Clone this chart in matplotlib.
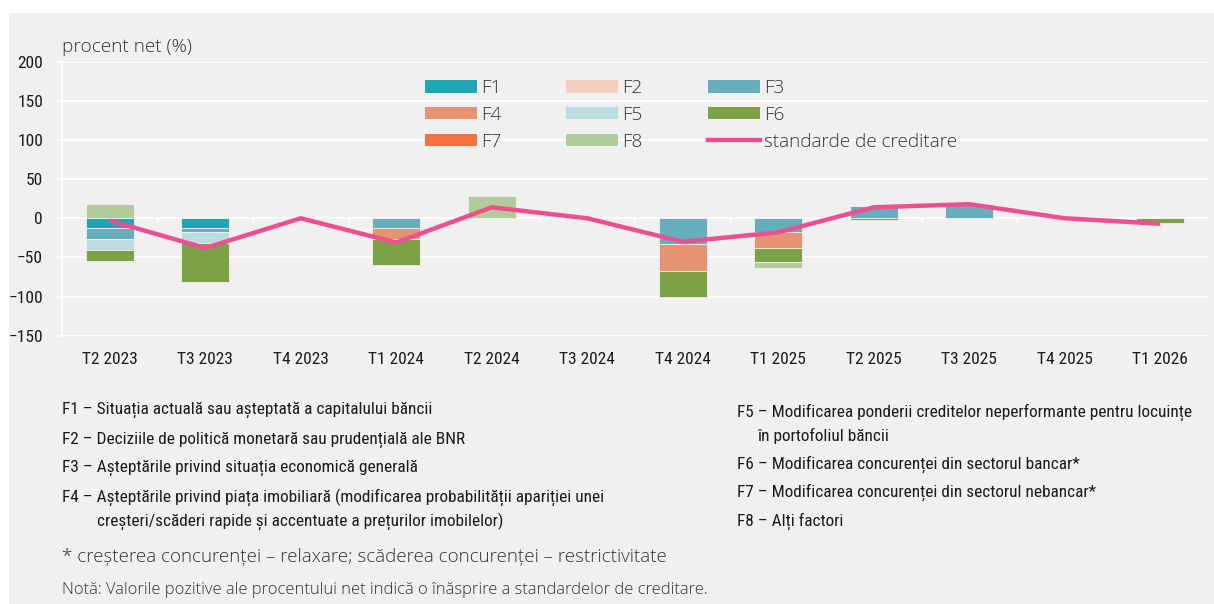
import numpy as np
import matplotlib
matplotlib.use("Agg")
import matplotlib.pyplot as plt
from matplotlib.patches import Rectangle, Patch
from matplotlib.lines import Line2D
from matplotlib.font_manager import FontProperties

# data (procent net, %)
trimestre = ["T2 2023", "T3 2023", "T4 2023", "T1 2024", "T2 2024", "T3 2024",
             "T4 2024", "T1 2025", "T2 2025", "T3 2025", "T4 2025", "T1 2026"]
F1 = [-13, -13, 0, 0, 0, 0, 0, 0, 0, 0, 0, 0]
F2 = [0, 0, 0, 0, 0, 0, 0, 0, 0, 0, 0, 0]
F3 = [-14, -5, 0, -13, 0, 0, -33, -18, 16, 18, 0, 0]
F4 = [0, 0, 0, -13, 0, 0, -34, -20, 0, 0, 0, 0]
F5 = [-14, -14, 0, 0, 0, 0, 0, 0, 0, 0, 0, 0]
F6 = [-13, -50, 0, -34, 0, 0, -33, -18, -2, 0, 0, -6]
F7 = [0, 0, 0, 0, 0, 0, 0, 0, 0, 0, 0, 0]
F8 = [18, 0, 0, 0, 28, 0, 0, -8, 0, 0, 0, 0]
standarde = [-3, -38, 0, -31, 14, 0, -30, -18, 14, 18, 0, -7]

factori = ["F1", "F2", "F3", "F4", "F5", "F6", "F7", "F8"]
culori = ["#1fa6b4", "#f4cfbd", "#67aebd", "#e69372", "#bddcdf", "#7ca147", "#f5703c", "#b1cc9a"]
serii = [F1, F2, F3, F4, F5, F6, F7, F8]

desc_stanga = ["F1 – Situația actuală sau așteptată a capitalului băncii",
               "F2 – Deciziile de politică monetară sau prudențială ale BNR",
               "F3 – Așteptările privind situația economică generală",
               "F4 – Așteptările privind piața imobiliară (modificarea probabilității apariției unei",
               "creșteri/scăderi rapide și accentuate a prețurilor imobilelor)"]
desc_dreapta = ["F5 – Modificarea ponderii creditelor neperformante pentru locuințe",
                "în portofoliul băncii",
                "F6 – Modificarea concurenței din sectorul bancar*",
                "F7 – Modificarea concurenței din sectorul nebancar*",
                "F8 – Alți factori"]
nota1 = "* creșterea concurenței – relaxare; scăderea concurenței – restrictivitate"
nota2 = "Notă: Valorile pozitive ale procentului net indică o înăsprire a standardelor de creditare."

W, H = 1214, 604
gri = "#f0f0f0"
text_col = "#1a1a1a"
gri_text = "#333333"
narrow = FontProperties(family=["Roboto Condensed", "DejaVu Sans"], size=12.5)
narrow_desc = FontProperties(family=["Roboto Condensed", "DejaVu Sans"], size=12.4)
light = ["Open Sans", "DejaVu Sans"]

def fx(px):
    return px / W

def fy(py):
    return 1 - py / H

fig = plt.figure(figsize=(W / 100, H / 100), dpi=100, facecolor="white")
fig.patches.append(Rectangle((fx(9), 0), 1, fy(13), transform=fig.transFigure,
                             facecolor=gri, edgecolor="none", zorder=-10))

ax = fig.add_axes([fx(62), fy(335.7), fx(1208) - fx(62), fy(61.7) - fy(335.7)])
ax.set_facecolor(gri)

x = np.arange(len(trimestre))
poz = np.zeros(len(x))
neg = np.zeros(len(x))
for nume, cul, s in zip(factori, culori, serii):
    s = np.array(s, dtype=float)
    baza = np.where(s >= 0, poz, neg)
    ax.bar(x, s, 0.5, bottom=baza, color=cul, edgecolor=gri, linewidth=0.6, zorder=3)
    poz = poz + np.where(s > 0, s, 0)
    neg = neg + np.where(s < 0, s, 0)

ax.plot(x, standarde, color="#ee4f91", linewidth=3.2, zorder=5, solid_capstyle="butt")

ax.set_xlim(-0.5, len(x) - 0.5)
ax.set_ylim(-150, 200)
ax.set_yticks(np.arange(-150, 201, 50))
ax.grid(axis="y", color="white", linewidth=1.3, zorder=1)
ax.set_axisbelow(True)
for sp in ["top", "right", "bottom"]:
    ax.spines[sp].set_visible(False)
ax.spines["left"].set_color("white")
ax.spines["left"].set_linewidth(1.3)
ax.tick_params(axis="y", length=3.6, width=1.3, color="white", pad=10, labelcolor=text_col)
ax.set_xticks(x)
ax.set_xticklabels(trimestre)
ax.tick_params(axis="x", length=0, pad=12, labelcolor=text_col)
for lab in ax.get_xticklabels() + ax.get_yticklabels():
    lab.set_fontproperties(narrow)

# mici separatoare pe linia de zero
ax.vlines(x[:-1] + 0.5, -6.5, 0, color="white", linewidth=1.3, zorder=2)

fig.text(fx(62), fy(47), "procent net (%)", family=light, weight=300, fontsize=13.7,
         color=gri_text, ha="left", va="center")

# legenda pe randuri: F1 F2 F3 / F4 F5 F6 / F7 F8 standarde
handles = [Patch(facecolor=c, edgecolor="none") for c in culori]
handles.append(Line2D([0], [0], color="#ee4f91", linewidth=3.2))
labels = factori + ["standarde de creditare"]
ordine = [0, 3, 6, 1, 4, 7, 2, 5, 8]
leg = ax.legend([handles[i] for i in ordine], [labels[i] for i in ordine], ncol=3,
                loc="upper left", bbox_to_anchor=(fx(425), fy(79)),
                bbox_transform=fig.transFigure, frameon=False,
                handlelength=2.75, handleheight=0.63, handletextpad=0.21,
                columnspacing=3.45, labelspacing=0.47, borderpad=0, borderaxespad=0,
                prop={"family": light, "size": 13.6, "weight": 300})
for t in leg.get_texts():
    t.set_color(gri_text)

# descrieri factori
y_st = [410, 440, 468, 497, 521]
x_st = [62, 62, 62, 62, 97]
for t, xx, yy in zip(desc_stanga, x_st, y_st):
    fig.text(fx(xx), fy(yy), t, fontproperties=narrow_desc, color=text_col,
             ha="left", va="center")
y_dr = [412, 436, 464, 492, 521]
x_dr = [737, 757, 737, 737, 737]
for t, xx, yy in zip(desc_dreapta, x_dr, y_dr):
    fig.text(fx(xx), fy(yy), t, fontproperties=narrow_desc, color=text_col,
             ha="left", va="center")

fig.text(fx(62), fy(557), nota1, family=light, weight=300, fontsize=13.5, color=gri_text,
         ha="left", va="center")
fig.text(fx(62), fy(590), nota2, family=light, weight=300, fontsize=11.85, color=gri_text,
         ha="left", va="center")

fig.savefig("out.png", dpi=100, facecolor=fig.get_facecolor())
